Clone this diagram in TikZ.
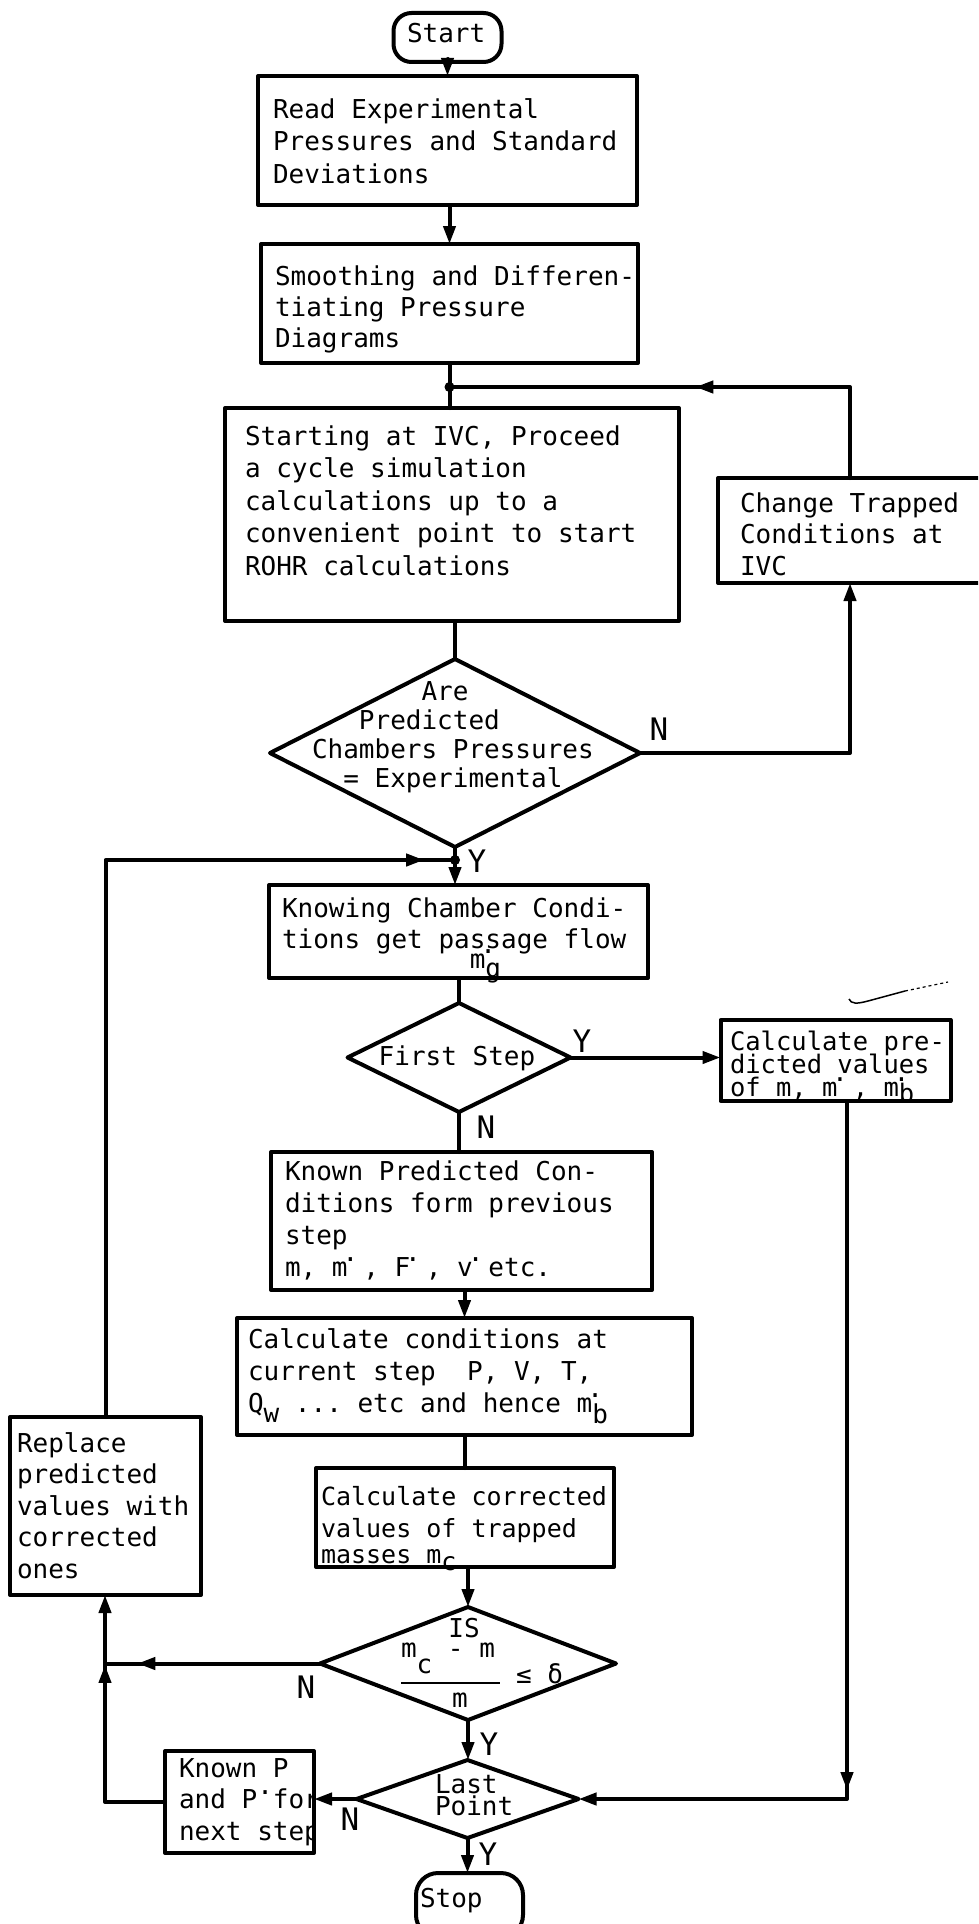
\documentclass[tikz,border=0pt]{standalone}
\usepackage{fontspec}
\newfontfamily\tw{DejaVu Sans Mono}
\usetikzlibrary{shapes.geometric,arrows.meta,decorations.markings}
\newcommand\twf[2]{\tw\fontsize{#1}{#2}\selectfont\lineskiplimit=-100pt\relax\frenchspacing}
\newcommand\firstl{\rule{0pt}{21pt}}
\newcommand\sdot{\rlap{\kern-5pt\smash{\raisebox{0.55em}{.}}}}
\newcommand\lowr[2]{\smash{\raisebox{-#1pt}{#2}}}
\tikzset{
  ln/.style={line width=4pt, line cap=round, line join=round},
  tip/.style={-{Triangle[length=18pt,width=12pt]}},
  box/.style={draw, ln, rectangle, inner sep=0pt, outer sep=0pt},
  dia/.style={draw, ln, diamond, inner sep=0pt, outer sep=0pt},
  term/.style={draw, ln, rectangle, rounded corners=18pt, inner sep=0pt, outer sep=0pt},
  txt/.style={inner sep=0pt, outer sep=0pt, anchor=north west, align=left, font=\twf{26}{#1}},
  txt/.default=32.5,
  mtx/.style={inner sep=0pt, outer sep=0pt, font=\twf{26}{26}},
  lab/.style={inner sep=0pt, outer sep=0pt, anchor=base, font=\twf{31}{31}},
  jdot/.style={circle, fill, inner sep=0pt, minimum size=10pt},
  midtip/.style={postaction={decorate}, decoration={markings, mark=at position #1 with {\arrow{Triangle[length=18pt,width=12pt]}}}},
}
\begin{document}
\begin{tikzpicture}[x=1pt,y=-1pt]
\useasboundingbox (0,0) rectangle (978,1924);
\clip (0,0) rectangle (978,1924);
% ---------- shapes ----------
\node[term, minimum width=108pt, minimum height=49pt] (start) at (447.5,37.5) {};
\node[box, minimum width=379pt, minimum height=129pt] (b1) at (447.5,140.5) {};
\node[box, minimum width=377pt, minimum height=119pt] (b2) at (449.5,303.5) {};
\node[box, minimum width=454pt, minimum height=213pt] (b3) at (452,514.5) {};
\node[box, minimum width=277pt, minimum height=105pt] (chg) at (856.5,530.5) {};
\node[dia, minimum width=370pt, minimum height=188pt] (d1) at (455,753) {};
\node[box, minimum width=379pt, minimum height=93pt] (b4) at (458.5,931.5) {};
\node[dia, minimum width=223pt, minimum height=109pt] (d2) at (459,1057.5) {};
\node[box, minimum width=230pt, minimum height=81pt] (cp) at (835.5,1060.5) {};
\node[box, minimum width=381pt, minimum height=138pt] (b5) at (461.5,1221) {};
\node[box, minimum width=455pt, minimum height=117pt] (b6) at (464.5,1376.5) {};
\node[box, minimum width=298pt, minimum height=99pt] (b7) at (465,1517.5) {};
\node[box, minimum width=191pt, minimum height=178pt] (rep) at (105.5,1506) {};
\node[dia, minimum width=296pt, minimum height=113pt] (d3) at (468,1663.5) {};
\node[dia, minimum width=222pt, minimum height=78pt] (d4) at (467.5,1799) {};
\node[box, minimum width=149pt, minimum height=102pt] (kp) at (239.5,1802) {};
\node[term, rounded corners=22pt, minimum width=107pt, minimum height=64pt] (stop) at (469.5,1905) {};
% ---------- texts ----------
\node[mtx, anchor=base west] (tstart) at (407,43) {Start};
\node[txt] (t1) at (273,97) {\firstl Read Experimental\\Pressures and Standard\\Deviations};
\node[txt=31] (t2) at (275,264) {\firstl Smoothing and Differen-\\tiating Pressure\\Diagrams};
\node[txt] (t3) at (245,424) {\firstl Starting at IVC, Proceed\\a cycle simulation\\calculations up to a\\convenient point to start\\ROHR calculations};
\node[txt=31.5] (tc) at (740,491) {\firstl Change Trapped\\Conditions at\\IVC};
\node[txt=29] (td1) at (312,679) {\firstl\phantom{0000000}Are\\\phantom{000}Predicted\\Chambers Pressures\\\phantom{00}= Experimental};
\node[txt=31] (t4) at (282,896) {\firstl Knowing Chamber Condi-\\tions get passage flow\\[-11pt]\phantom{000000000000}m\sdot\lowr{9}{g}};
\node[mtx] (td2) at (457,1058) {First Step};
\begin{scope}
\clip (cp.north west) rectangle (cp.south east);
\node[txt, font=\twf{25.5}{23}] (tcp) at (730,1029) {\firstl Calculate pre-\\dicted values\\of m, m\sdot\ , m\sdot\lowr{6}{b}};
\end{scope}
\node[txt=32] (t5) at (285,1159) {\firstl Known Predicted Con-\\ditions form previous\\step\\m, m\sdot\ , F\sdot\ , v\sdot\ etc.};
\node[txt=32] (t6) at (248,1327) {\firstl Calculate conditions at\\current step\ \ P, V, T,\\Q\lowr{10}{w} ... etc and hence m\sdot\lowr{11}{b}};
\node[txt, font=\twf{25}{32}] (t7) at (321,1484) {\firstl Calculate corrected\\values of trapped\\[-6pt]masses m\lowr{7}{c}};
\node[txt=31.5] (tr) at (17,1431) {\firstl Replace\\predicted\\values with\\corrected\\ones};
\node[mtx, anchor=base] (tis) at (464,1637) {IS};
\node[mtx, anchor=base west] (tnum) at (401,1657) {m\lowr{16}{c} - m};
\node[mtx, anchor=base] (tden) at (460,1707) {m};
\node[mtx, anchor=base west] (tle) at (516,1683) {≤ δ};
\draw[line width=2.5pt] (401,1683) -- (500,1683);
\node[txt=22] (td4) at (435,1772) {\firstl Last\\Point};
\begin{scope}
\clip (kp.north west) rectangle (kp.south east);
\node[txt=31.5] (tkp) at (179,1756) {\firstl Known P\\and P\smash{\raisebox{0.55em}{.}}for\\next step};
\end{scope}
\node[mtx, anchor=base west] (tstop) at (420,1907) {Stop};
% ---------- labels ----------
\node[lab] (n1) at (659,740) {N};
\node[lab] (y1) at (477,872) {Y};
\node[lab] (y2) at (582,1052) {Y};
\node[lab] (n2) at (486,1138) {N};
\node[lab] (n3) at (306,1698) {N};
\node[lab] (y3) at (489,1755) {Y};
\node[lab] (n4) at (350,1830) {N};
\node[lab] (y4) at (488,1865) {Y};
% ---------- connectors ----------
\coordinate (j1) at (449.5,387);
\coordinate (j2) at (455,860);
\coordinate (rc) at (850,0);
\coordinate (rc2) at (847,0);
\coordinate (lc) at (105,0);
\draw[ln,tip] (start.south) -- (start.south |- b1.north);
\draw[ln,tip] (b1.south -| b2.north) -- (b2.north);
\draw[ln] (b2.south) -- (j1) -- (j1 |- b3.north);
\draw[ln] (b3.south -| d1.north) -- (d1.north);
\draw[ln,tip] (d1.east) -- (d1.east -| rc) -- (rc |- chg.south);
\draw[ln,midtip=0.5] (rc |- chg.north) -- (rc |- j1) -- (j1);
\draw[ln] (d1.south) -- (j2);
\draw[ln,tip] (j2) -- (j2 |- b4.north);
\draw[ln,midtip=0.966] (rep.north) -- (rep.north |- j2) -- (j2);
\draw[ln] (b4.south -| d2.north) -- (d2.north);
\draw[ln,tip] (d2.east) -- (d2.east -| cp.west);
\draw[ln] (d2.south) -- (d2.south |- b5.north);
\draw[ln,tip] (b6.north |- b5.south) -- (b6.north);
\draw[ln] (b6.south) -- (b6.south |- b7.north);
\draw[ln,tip] (b7.south -| d3.north) -- (d3.north);
\draw[ln,tip] (d3.south) -- (d3.south |- d4.north);
\draw[ln,tip] (d4.south) -- (d4.south |- stop.north);
\draw[ln,midtip=0.85] (d3.west) -- (d3.west -| lc);
\draw[ln,tip,midtip=0.738] (kp.west) -- (kp.west -| lc) -- (lc |- rep.south);
\draw[ln,tip] (d4.west) -- (d4.west -| kp.east);
\draw[ln,tip,midtip=0.713] (cp.south -| rc2) -- (rc2 |- d4.east) -- (d4.east);
\node[jdot] (j1d) at (j1) {};
\node[jdot] (j2d) at (j2) {};
% stray pen mark
\draw[line width=1.5pt] (849,999) .. controls (851,1004) and (857,1004) .. (868,1001) -- (905,991);
\draw[line width=1.2pt, dashed] (905,991) -- (948,982);
\end{tikzpicture}
\end{document}
